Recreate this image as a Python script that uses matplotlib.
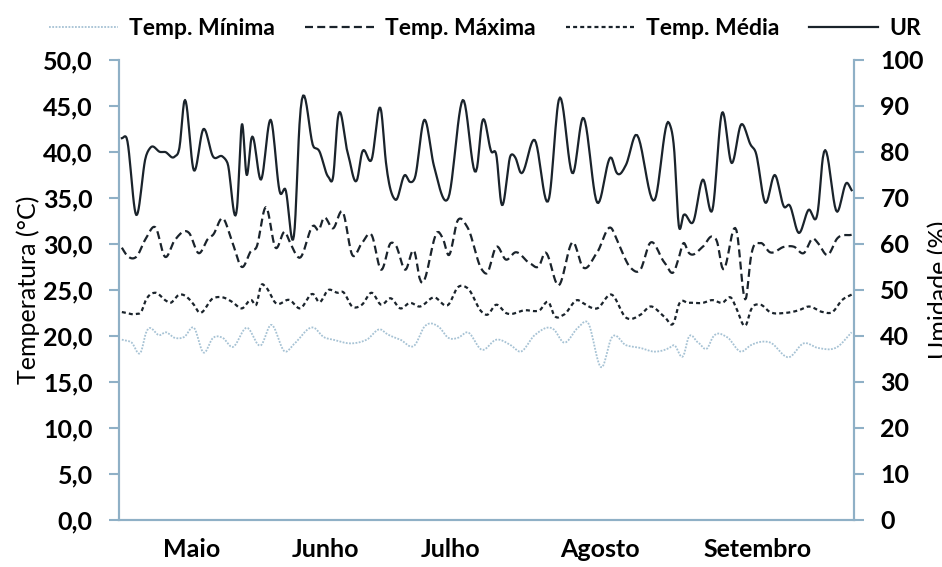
import numpy as np
import matplotlib
matplotlib.use("Agg")
import matplotlib.pyplot as plt

plt.rcParams['font.family'] = ['Lato', 'DejaVu Sans']
plt.rcParams['font.weight'] = 'bold'

# dias contados a partir de 1 de maio
ur_dias = [0, 1, 3, 5, 6, 8, 9, 11, 12, 13, 15, 17, 19, 21, 22, 24, 25, 26, 27, 29,
           31, 33, 34, 36, 37, 40, 41, 43, 44, 45, 47, 49, 50, 52, 54, 55, 57, 59, 60, 61,
           63, 65, 68, 71, 74, 75, 77, 78, 79, 81, 82, 83, 86, 89, 91, 94, 96, 99, 102, 103,
           105, 107, 111, 114, 115, 116, 117, 119, 121, 123, 125, 127, 129, 131, 132, 134,
           136, 138, 139, 141, 143, 145, 146, 149, 151, 152]
ur = [83, 83, 66.3, 79, 81, 80, 80, 79, 81, 91, 76, 85, 79, 79, 77.6, 68, 86, 75, 83, 74,
      87, 71, 72, 63.5, 86, 81, 80.4, 74.6, 74.6, 87.4, 80, 74, 79.8, 78.3, 89, 77.8, 69.6, 75, 73.5, 74.3,
      87, 77, 70, 91.3, 76.7, 86.3, 80, 79.3, 69, 79.3, 78.7, 75.6, 82.6, 70, 91.3, 75.4, 87.4, 69, 78.7, 75.6,
      77.2, 83.7, 69.6, 86.3, 81, 64, 66.3, 64.8, 74, 67.4, 88.5, 77.6, 86, 81.5, 80, 69,
      75, 68, 68.5, 62.4, 67.4, 67.4, 78.7, 67, 73.3, 71.7]

tmax_dias = [0, 1, 3, 5, 7, 9, 11, 14, 16, 18, 19, 21, 23, 25, 27, 28, 30, 32, 34, 35,
             37, 40, 41, 42, 44, 46, 48, 50, 52, 54, 56, 57, 59, 61, 62, 66, 67, 68, 70, 72,
             75, 76, 78, 80, 82, 85, 87, 88, 91, 94, 96, 99, 102, 103, 106, 108, 110, 113, 115, 116,
             117, 118, 121, 123, 124, 125, 128, 130, 131, 133, 135, 138, 140, 142, 144, 145, 147, 149, 152]
tmax = [29.6, 28.8, 28.6, 30.6, 31.8, 28.6, 30.4, 31.2, 29, 30.6, 31, 32.8, 30.2, 27.5, 29.3, 29.6, 34, 29.6, 31.3, 30.2,
        28.5, 32, 31.5, 32.8, 31.7, 33.5, 28.8, 30.1, 31, 27.2, 30.1, 29.9, 27.2, 29.1, 26.3, 31.3, 30.4, 28.8, 32.6, 31.8,
        27.2, 26.8, 29.7, 28.3, 29.1, 27.9, 27.7, 29, 25.5, 30.2, 27.5, 29.1, 31.7, 30.6, 27.4, 27.2, 30.1, 28, 27, 28.5,
        30.1, 29.1, 29.7, 30.8, 30.2, 27.5, 31.5, 24.1, 28.5, 30.1, 29.1, 29.7, 29.7, 29, 30.6, 30.1, 28.8, 30.6, 31]

tmed_dias = [0, 3, 4, 5, 7, 9, 10, 12, 15, 16, 19, 21, 23, 25, 27, 28, 29, 30, 32, 35,
             37, 40, 41, 43, 45, 46, 48, 50, 52, 54, 56, 58, 60, 62, 65, 68, 70, 72, 75, 76,
             78, 80, 84, 87, 89, 90, 92, 95, 96, 99, 102, 105, 108, 110, 113, 115, 116, 118, 121, 123,
             125, 127, 128, 130, 131, 133, 135, 138, 141, 143, 146, 148, 150, 152]
tmed = [22.6, 22.4, 22.6, 23.9, 24.7, 23.9, 23.6, 24.5, 23.4, 22.6, 24.1, 24.2, 23.7, 23, 23.9, 23.4, 25.5, 25.3, 23.6, 23.9,
        23, 24.5, 23.7, 25, 24.7, 24.8, 23.2, 23.4, 24.7, 23.4, 24.1, 23, 23.6, 23.2, 24.2, 23.4, 25.3, 25.2, 22.6, 22.3,
        23.4, 22.5, 22.8, 22.8, 23.6, 22.3, 22.3, 23.9, 23.6, 23, 24.5, 22, 22.3, 23.2, 22.1, 21.5, 23.4, 23.6, 23.6, 23.9,
        23.6, 24.1, 23, 21.2, 22.8, 23.4, 22.6, 22.5, 22.8, 23.2, 22.6, 22.6, 23.9, 24.5]

tmin_dias = [0, 2, 4, 5, 8, 9, 11, 13, 15, 17, 19, 21, 23, 26, 29, 31, 34, 36, 40, 42,
             44, 48, 51, 54, 55, 58, 61, 63, 66, 68, 70, 72, 75, 78, 81, 83, 86, 90, 92, 95,
             97, 100, 102, 105, 108, 111, 114, 115, 117, 118, 120, 122, 123, 126, 129, 131, 135, 139, 142, 145,
             149, 152]
tmin = [19.6, 19.3, 18.3, 20.3, 20.1, 20.4, 19.8, 19.9, 20.9, 18.2, 19.8, 19.8, 18.8, 20.9, 19, 21.2, 18.3, 19.2, 20.9, 19.9,
        19.6, 19.2, 19.6, 20.7, 20.3, 19.6, 19, 21, 21, 19.8, 19.8, 20.4, 18.5, 19.6, 19, 18.3, 20.1, 20.7, 19.3, 20.9,
        21.5, 16.6, 19.8, 19, 18.7, 18.3, 18.7, 19, 17.9, 19.8, 19.3, 18.7, 19.8, 19.9, 18.3, 19, 19.3, 17.7, 19.2, 18.7,
        18.8, 20.4]

meses = ["Maio", "Junho", "Julho", "Agosto", "Setembro"]
meses_pos = [14.5, 42.5, 68.5, 99.5, 132.5]


def suave(x, y, n=12):
    # linha suavizada (hermite cubica) no estilo do excel
    x = np.asarray(x, float)
    y = np.asarray(y, float)
    m = np.gradient(y, x)
    xs, ys = [], []
    for i in range(len(x) - 1):
        h = x[i + 1] - x[i]
        t = np.linspace(0, 1, n, endpoint=False)
        h00 = 2 * t**3 - 3 * t**2 + 1
        h10 = t**3 - 2 * t**2 + t
        h01 = -2 * t**3 + 3 * t**2
        h11 = t**3 - t**2
        xs.append(x[i] + t * h)
        ys.append(h00 * y[i] + h10 * h * m[i] + h01 * y[i + 1] + h11 * h * m[i + 1])
    xs.append([x[-1]])
    ys.append([y[-1]])
    return np.concatenate(xs), np.concatenate(ys)


cor = "#1a232b"
cor_eixo = "#8fb0c6"
fs = 18
fs_leg = 16.5

fig = plt.figure(figsize=(9.42, 5.67), dpi=100)
ax = fig.add_axes([0.1263, 0.0829, 0.7803, 0.8113])
ax2 = ax.twinx()

l_min, = ax.plot(*suave(tmin_dias, tmin), color="#a6c2d4", lw=1.3, ls=(0, (1, 0.8)))
l_max, = ax.plot(*suave(tmax_dias, tmax), color=cor, lw=1.6, ls=(0, (3.6, 1.9)))
l_med, = ax.plot(*suave(tmed_dias, tmed), color=cor, lw=1.6, ls=(0, (1.8, 1.4)))
l_ur, = ax2.plot(*suave(ur_dias, ur), color=cor, lw=1.6)

ax.set_xlim(-0.6, 152.5)
ax.set_ylim(0, 50)
ax2.set_ylim(0, 100)
ax.set_yticks(np.arange(0, 51, 5))
ax.set_yticklabels([f"{v:.1f}".replace(".", ",") for v in np.arange(0, 51, 5)])
ax2.set_yticks(np.arange(0, 101, 10))
ax.set_xticks(meses_pos)
ax.set_xticklabels(meses)

for a in (ax, ax2):
    a.spines['top'].set_visible(False)
    for s in ('left', 'right', 'bottom'):
        a.spines[s].set_color(cor_eixo)
        a.spines[s].set_linewidth(1.5)
    a.tick_params(axis='y', colors=cor_eixo, labelcolor='black', labelsize=fs,
                  length=7, width=1.5, pad=12)
ax.tick_params(axis='x', length=0, labelsize=fs, pad=13)

ax.set_ylabel("Temperatura (°C)", fontsize=fs, labelpad=2)
ax2.set_ylabel("Umidade (%)", fontsize=fs, labelpad=3)

fig.legend([l_min, l_max, l_med, l_ur],
           ["Temp. Mínima", "Temp. Máxima", "Temp. Média", "UR"],
           loc='center', bbox_to_anchor=(0.515, 0.949), ncol=4, frameon=False,
           fontsize=fs_leg, handlelength=3.0, columnspacing=1.3, handletextpad=0.5)

fig.savefig("out.png", dpi=100)
